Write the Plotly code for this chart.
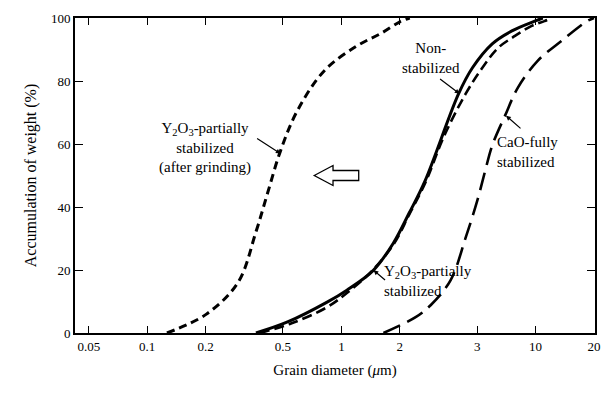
import plotly.graph_objects as go

# ---- data ----
grind_x = [0.1263, 0.2018, 0.2937, 0.3626, 0.4175, 0.4862, 0.5934, 0.8146, 1.199, 1.608, 2.0, 2.25]
grind_y = [0, 6.0, 16.1, 32.0, 44.6, 57.9, 70.6, 83.2, 91.1, 95.2, 98.8, 100]

non_x = [0.363, 0.528, 0.844, 1.067, 1.46, 1.85, 2.23, 2.70, 4.01, 4.73, 5.98, 7.55, 9.89, 10.9]
non_y = [0, 3.5, 9.8, 13.6, 19.9, 28.5, 38, 48.4, 75.9, 84.2, 91.8, 95.9, 99.0, 100]

ypart_x = [0.38, 0.55, 0.844, 1.067, 1.40, 1.85, 2.23, 2.72, 3.35, 4.36, 5.32, 6.41, 7.83, 9.55, 11.1, 12.1]
ypart_y = [0, 3.0, 8.2, 12.7, 19.0, 28.0, 37.5, 48.0, 62.0, 75.9, 84.2, 90.5, 94.3, 97.5, 99.0, 100]

cao_x = [1.646, 2.423, 2.889, 3.653, 4.355, 5.013, 5.507, 5.977, 6.961, 8.108, 10.25, 13.58, 18.42, 20.0]
cao_y = [0, 5.1, 8.9, 16.8, 30.1, 42.1, 51.6, 59.5, 69.0, 77.9, 86.4, 92.7, 99.0, 100]

x_tickvals = [0.05, 0.1, 0.2, 0.5, 1, 2, 5, 10, 20]
x_ticktext = ["0.05", "0.1", "0.2", "0.5", "1", "2", "3", "10", "20"]
y_tickvals = [0, 20, 40, 60, 80, 100]

FONT = "Liberation Serif, Times New Roman, serif"

# plot area in pixels
L, R, T, B = 75, 601, 17, 333
W, H = 612, 393


def px(x, y):
    return (x - L) / (R - L), (B - y) / (B - T)


fig = go.Figure()
fig.add_trace(go.Scatter(x=grind_x, y=grind_y, mode="lines", line_shape="spline",
                         line=dict(color="black", width=3, dash="8px,5px")))
fig.add_trace(go.Scatter(x=non_x, y=non_y, mode="lines", line_shape="spline",
                         line=dict(color="black", width=3)))
fig.add_trace(go.Scatter(x=ypart_x, y=ypart_y, mode="lines", line_shape="spline",
                         line=dict(color="black", width=2.6, dash="10px,5px")))
fig.add_trace(go.Scatter(x=cao_x, y=cao_y, mode="lines", line_shape="spline",
                         line=dict(color="black", width=2.6, dash="18px,8px")))

ann = []


def text(t, x, y, align="center", xanchor="center", size=15):
    xp, yp = px(x, y)
    ann.append(dict(text=t, x=xp, y=yp, xref="paper", yref="paper", showarrow=False,
                    align=align, xanchor=xanchor, yanchor="middle",
                    font=dict(family=FONT, size=size, color="black")))


def pointer(hx, hy, tx, ty):
    xp, yp = px(hx, hy)
    ann.append(dict(text="", x=xp, y=yp, xref="paper", yref="paper", showarrow=True,
                    ax=tx - hx, ay=ty - hy, arrowhead=2, arrowsize=0.8, arrowwidth=1.2,
                    arrowcolor="black", standoff=0))


text("Y<sub>2</sub>O<sub>3</sub>-partially<br>stabilized<br>(after grinding)", 206, 147)
pointer(283, 153, 258, 137)
text("Non-<br>stabilized", 435, 57)
pointer(464, 93, 443, 77)
text("CaO-fully<br>stabilized", 500, 151, align="left", xanchor="left")
pointer(511, 115, 527, 129)
text("Y<sub>2</sub>O<sub>3</sub>-partially<br>stabilized", 386, 281, align="left", xanchor="left")
pointer(377, 270, 390, 281)

# hollow arrow
pts = [(317, 175), (336, 165), (336, 170), (362, 170), (362, 180), (336, 180), (336, 185)]
path = "M " + " L ".join(f"{px(a, b)[0]:.4f},{px(a, b)[1]:.4f}" for a, b in pts) + " Z"

fig.update_layout(
    width=W, height=H,
    margin=dict(l=L, r=W - R, t=T, b=H - B),
    paper_bgcolor="white", plot_bgcolor="white",
    showlegend=False,
    annotations=ann,
    shapes=[dict(type="path", path=path, xref="paper", yref="paper",
                 line=dict(color="black", width=1.3))],
    font=dict(family=FONT, size=12, color="black"),
    xaxis=dict(type="log", range=[-1.372, 1.306], tickvals=x_tickvals, ticktext=x_ticktext,
               ticks="inside", ticklen=7, tickwidth=1, tickcolor="black", mirror="ticks",
               showline=True, linecolor="black", linewidth=2, showgrid=False, zeroline=False,
               title=dict(text="Grain diameter (<i>μ</i>m)", font=dict(family=FONT, size=15), standoff=12),
               tickfont=dict(family=FONT, size=13)),
    yaxis=dict(range=[0, 100], tickvals=y_tickvals,
               ticks="inside", ticklen=8, tickwidth=1, tickcolor="black", mirror="ticks",
               showline=True, linecolor="black", linewidth=2, showgrid=False, zeroline=False,
               title=dict(text="Accumulation of weight (%)", font=dict(family=FONT, size=16), standoff=10),
               tickfont=dict(family=FONT, size=13)),
)

fig.write_html("out.html")
